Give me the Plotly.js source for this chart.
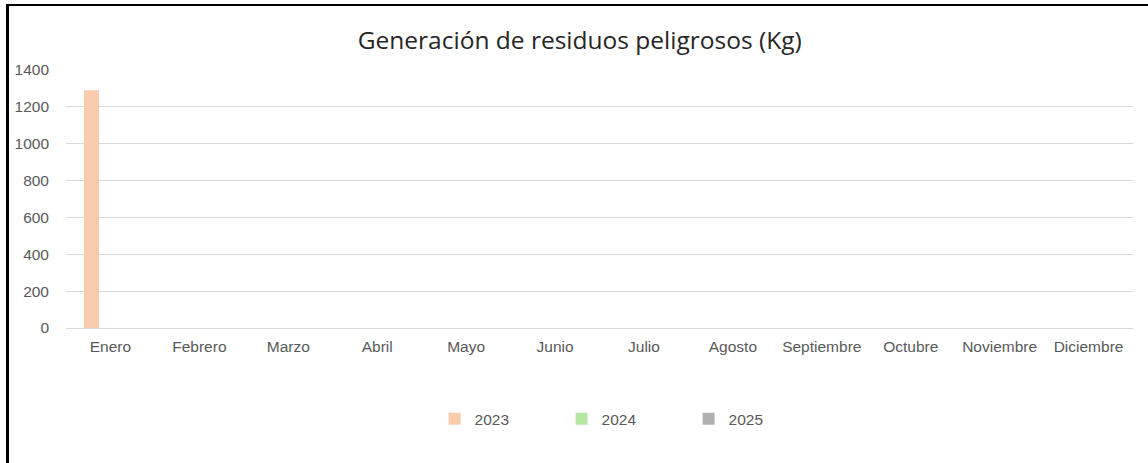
<!DOCTYPE html>
<html>
<head>
<meta charset="utf-8">
<script src="https://cdn.plot.ly/plotly-3.0.1.min.js"></script>
<style>
  html, body { margin: 0; padding: 0; background: #fff; }
  #frame { position: absolute; left: 0; top: 0; width: 1148px; height: 463px; }
  #edge { position: absolute; left: 6px; top: 4px; width: 1142px; height: 459px;
          border-left: 3px solid #000; border-top: 2px solid #000; box-sizing: border-box; pointer-events: none; }
  #chart { position: absolute; left: 0; top: 0; width: 1148px; height: 463px; }
</style>
</head>
<body>
<div id="frame">
  <div id="chart"></div>
  <div id="edge"></div>
</div>
<script>
const months = ["Enero","Febrero","Marzo","Abril","Mayo","Junio","Julio","Agosto","Septiembre","Octubre","Noviembre","Diciembre"];
const serie2023 = [1290, null, null, null, null, null, null, null, null, null, null, null];
const serie2024 = [null, null, null, null, null, null, null, null, null, null, null, null];
const serie2025 = [null, null, null, null, null, null, null, null, null, null, null, null];
const yTicks = [0, 200, 400, 600, 800, 1000, 1200, 1400];

const tickFont = {family: "Liberation Sans, Arial, sans-serif", size: 15.5, color: "#595959"};

const traces = [
  {type: "bar", name: "2023", x: months, y: serie2023, marker: {color: "#F8CBAD"}},
  {type: "bar", name: "2024", x: months, y: serie2024, marker: {color: "#B5E6A2"}},
  {type: "bar", name: "2025", x: months, y: serie2025, marker: {color: "#B0B0B0"}}
];

const layout = {
  width: 1148, height: 463,
  margin: {l: 66, r: 15, t: 70, b: 135},
  paper_bgcolor: "rgba(0,0,0,0)",
  plot_bgcolor: "#fff",
  barmode: "group",
  bargap: 0.36,
  bargroupgap: 0.21,
  title: {text: "Generación de residuos peligrosos (Kg)", x: 0.505, xanchor: "center", y: 0.912, yanchor: "middle",
          font: {family: "Open Sans, Noto Sans, sans-serif", size: 24.5, color: "#262626"}},
  xaxis: {type: "category", tickfont: tickFont, showgrid: false, showline: false, ticks: "", ticklabelstandoff: 7, fixedrange: true},
  yaxis: {range: [0, 1400], tickvals: yTicks, ticktext: yTicks.map(String), tickfont: tickFont,
          showgrid: true, gridcolor: "#D9D9D9", gridwidth: 1, zeroline: true, zerolinecolor: "#D9D9D9", zerolinewidth: 1,
          showline: false, ticks: "", ticklabelstandoff: 16, fixedrange: true},
  showlegend: true,
  legend: {orientation: "h", x: 0.524, xanchor: "center", y: -0.353, yanchor: "middle",
           font: tickFont, entrywidth: 82, itemwidth: 30, traceorder: "normal"}
};

Plotly.newPlot("chart", traces, layout, {displayModeBar: false, staticPlot: true});
</script>
</body>
</html>
